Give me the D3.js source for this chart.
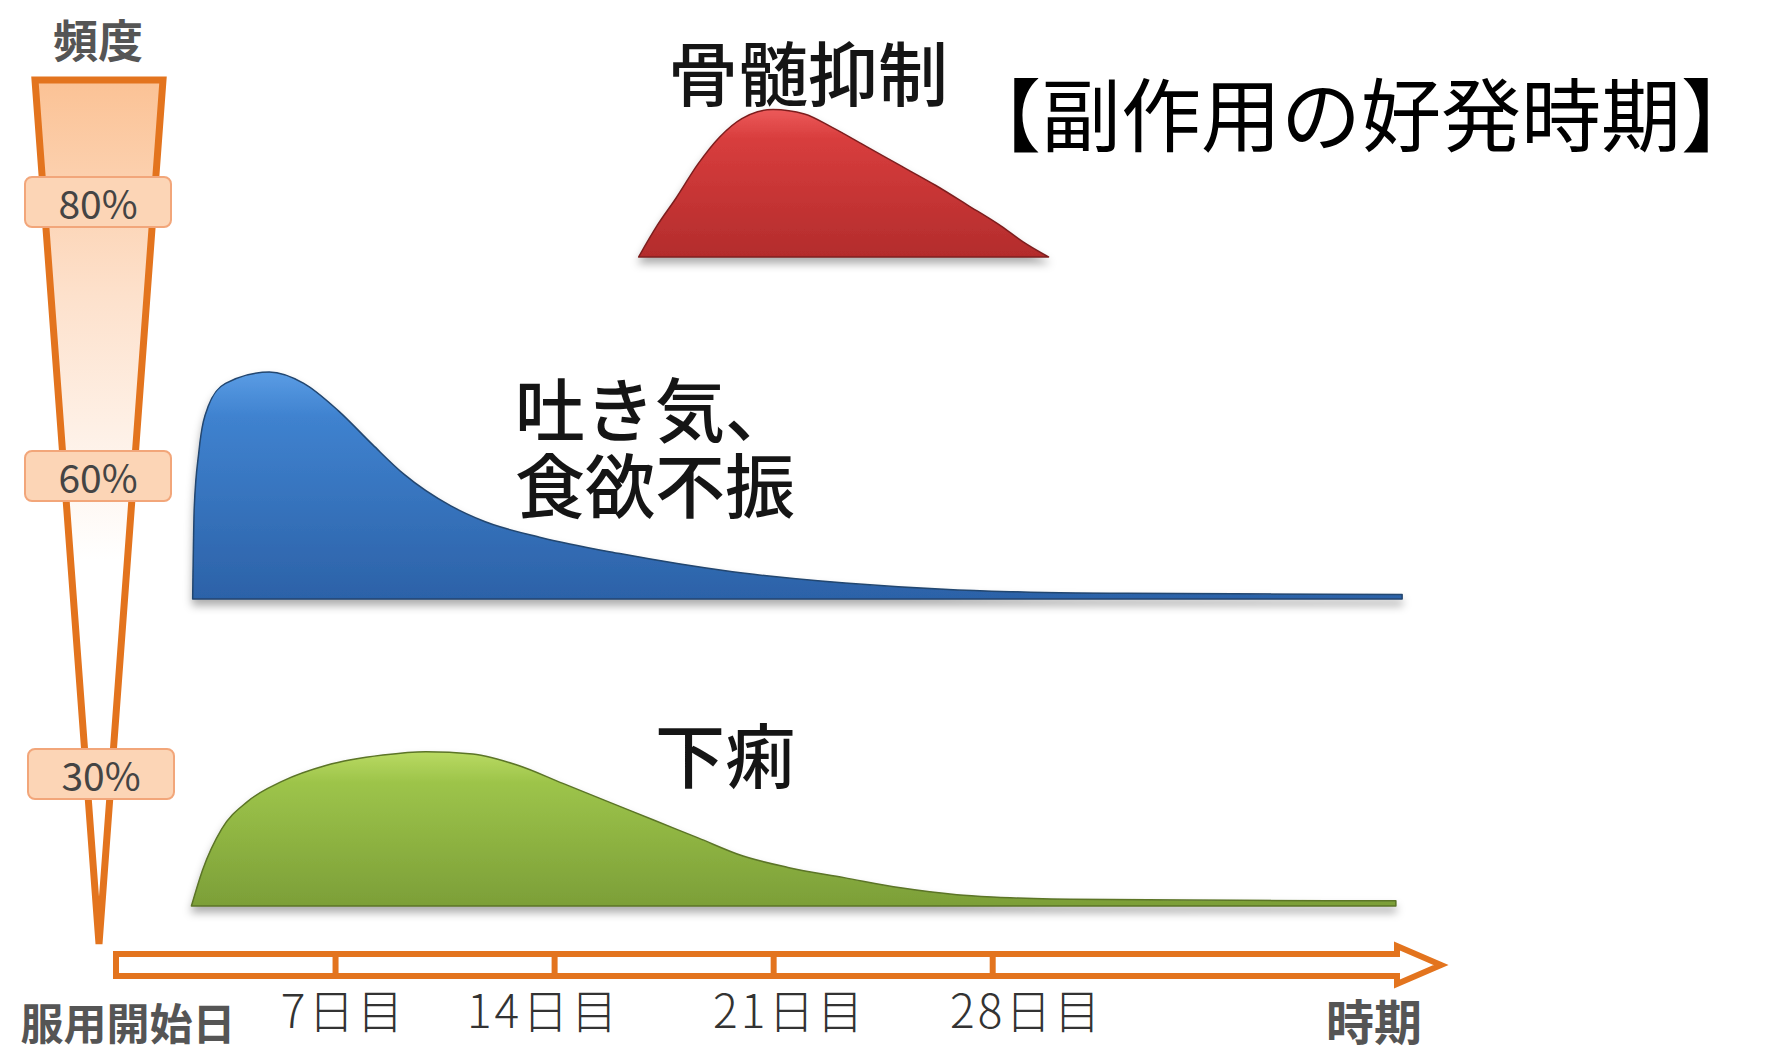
<!DOCTYPE html>
<html>
<head>
<meta charset="utf-8">
<script src="https://cdn.jsdelivr.net/npm/d3@7"></script>
<style>
  body { margin: 0; background: #fff; }
  text { font-family: "Noto Sans CJK JP", "Noto Sans", sans-serif; }
</style>
</head>
<body>
<div id="chart"></div>
<script>
// ---- data ----
const seriesNames = ['骨髄抑制', '吐き気、\n食欲不振', '下痢'];
const freqLabels = ['80%', '60%', '30%'];
const tickDays = [7, 14, 21, 28];
const tickLabels = ['7日目', '14日目', '21日目', '28日目'];

// day after start of dosing, relative intensity (0-100)
const boneDays   = [16.7, 17.3, 17.9, 18.6, 19.3, 20.0, 21.0, 22.0, 22.9, 24.0, 25.1, 26.2, 27.2, 28.3, 29.0, 29.8];
const boneValues = [0, 14, 26, 41, 53, 61, 65, 63, 57, 48.5, 40, 31.5, 23, 13.5, 6.5, 0];

const nauseaDays   = [2.45, 2.5, 2.65, 2.95, 3.5, 4.9, 6.0, 7.1, 8.2, 9.2, 10.7, 11.8, 13.6, 16.1, 19.7, 23.3, 26.9, 32.3, 41.1];
const nauseaValues = [0, 40, 65, 85, 95, 100, 95, 83, 68, 55, 41, 34, 27, 20, 12, 7, 4, 2.5, 2];

const diarrheaDays   = [2.41, 2.77, 3.38, 4.2, 5.32, 6.73, 8.53, 9.9, 11.4, 12.84, 14.28, 15.72, 17.16, 18.6, 20.04, 21.47, 23.27, 25.07, 26.87, 28.0, 30.5, 35.9, 40.9];
const diarrheaValues = [0, 16, 34, 46, 55, 62, 66.5, 68, 67, 62, 54, 46, 38, 30, 22, 17, 12.5, 8, 5, 4, 3, 2.5, 2.3];

const seriesDays = [boneDays, nauseaDays, diarrheaDays];
const seriesValues = [boneValues, nauseaValues, diarrheaValues];

// ---- layout ----
const width = 1765, height = 1053;
const rowBase = [257, 599, 906];          // baseline of each row
const boxCenter = [202, 476, 774];        // frequency label boxes
const labelPos = [{ x: 668, y: 70 }, { x: 515, y: 406 }, { x: 655, y: 752 }];
const tickLabelShift = [8, -11, 16, 34];  // labels sit a little off their ticks in the original
const colors = [
    { top: '#ec5a5a', mid: '#d83d3d', bottom: '#b32c2c', line: '#7d1f1f' },
    { top: '#5a9ce4', mid: '#3f82cf', bottom: '#2c62a8', line: '#23466f' },
    { top: '#b9da62', mid: '#9dc44a', bottom: '#7c9f38', line: '#5b7428' }
];
const orange = '#e3741e';

const svg = d3.select('#chart').append('svg')
    .attr('width', width)
    .attr('height', height);

const defs = svg.append('defs');

defs.append('filter')
    .attr('id', 'shadow')
    .attr('x', '-5%').attr('y', '-30%')
    .attr('width', '110%').attr('height', '180%')
    .append('feDropShadow')
    .attr('dx', 0).attr('dy', 6)
    .attr('stdDeviation', 4)
    .attr('flood-color', '#000')
    .attr('flood-opacity', 0.32);

colors.forEach((c, i) => {
    const g = defs.append('linearGradient')
        .attr('id', `grad${i}`)
        .attr('x1', 0).attr('y1', 0).attr('x2', 0).attr('y2', 1);
    g.append('stop').attr('offset', '0%').attr('stop-color', c.top);
    g.append('stop').attr('offset', '20%').attr('stop-color', c.mid);
    g.append('stop').attr('offset', '100%').attr('stop-color', c.bottom);
});

const funnelGrad = defs.append('linearGradient')
    .attr('id', 'funnelGrad')
    .attr('gradientUnits', 'userSpaceOnUse')
    .attr('x1', 0).attr('y1', 80).attr('x2', 0).attr('y2', 560);
funnelGrad.append('stop').attr('offset', '0%').attr('stop-color', '#fbc295');
funnelGrad.append('stop').attr('offset', '45%').attr('stop-color', '#fde1cc');
funnelGrad.append('stop').attr('offset', '100%').attr('stop-color', '#ffffff');

// ---- scales ----
const x = d3.scaleLinear().domain([0, 41]).range([116, 1399]);
const h = d3.scaleLinear().domain([0, 100]).range([0, 227]);

// ---- frequency funnel ----
svg.append('path')
    .attr('d', 'M35,80 L163,80 L99,944 Z')
    .attr('fill', 'url(#funnelGrad)')
    .attr('stroke', orange)
    .attr('stroke-width', 7);

const boxes = svg.append('g').selectAll('g')
    .data(freqLabels)
    .join('g')
    .attr('transform', (d, i) => `translate(${i === 2 ? 101 : 98}, ${boxCenter[i]})`);

boxes.append('rect')
    .attr('x', -73).attr('y', -25)
    .attr('width', 146).attr('height', 50)
    .attr('rx', 7)
    .attr('fill', '#fcd5b6')
    .attr('stroke', '#f2a67a')
    .attr('stroke-width', 2);

boxes.append('text')
    .attr('text-anchor', 'middle')
    .attr('dominant-baseline', 'central')
    .attr('font-family', '"Noto Sans", sans-serif')
    .attr('font-size', 39)
    .attr('fill', '#444')
    .text(d => d);

svg.append('text')
    .attr('x', 98).attr('y', 38)
    .attr('text-anchor', 'middle')
    .attr('dominant-baseline', 'central')
    .attr('font-size', 45)
    .attr('font-weight', 700)
    .attr('fill', '#555')
    .text('頻度');

// ---- side effect areas ----
seriesNames.forEach((name, i) => {
    const pts = seriesDays[i].map((d, j) => ({ day: d, v: seriesValues[i][j] }));
    const area = d3.area()
        .x(d => x(d.day))
        .y0(rowBase[i])
        .y1(d => rowBase[i] - h(d.v))
        .curve(d3.curveMonotoneX);

    svg.append('path')
        .datum(pts)
        .attr('d', area)
        .attr('fill', `url(#grad${i})`)
        .attr('stroke', colors[i].line)
        .attr('stroke-width', 1.5)
        .attr('stroke-linejoin', 'round')
        .attr('filter', 'url(#shadow)');

    const lbl = svg.append('text')
        .attr('x', labelPos[i].x)
        .attr('y', labelPos[i].y)
        .attr('dominant-baseline', 'central')
        .attr('font-size', 70)
        .attr('font-weight', 500)
        .attr('fill', '#151515');
    name.split('\n').forEach((line, k) => {
        lbl.append('tspan')
            .attr('x', labelPos[i].x)
            .attr('dy', k === 0 ? 0 : 76)
            .text(line);
    });
});

// ---- time arrow ----
const barLeft = x.range()[0], barRight = x.range()[1] - 2, arrowTip = barRight + 44;
const barTop = 954, barBottom = 976, barMid = (barTop + barBottom) / 2;
svg.append('path')
    .attr('d', `M${barLeft},${barTop} H${barRight} V${barTop - 8} L${arrowTip},${barMid} L${barRight},${barBottom + 8} V${barBottom} H${barLeft} Z`)
    .attr('fill', '#fff')
    .attr('stroke', orange)
    .attr('stroke-width', 6)
    .attr('stroke-linejoin', 'miter');

const xAxis = d3.axisBottom(x)
    .tickValues(tickDays)
    .tickFormat((d, i) => tickLabels[i])
    .tickSizeInner(-(barBottom - barTop))
    .tickSizeOuter(0);

const xAxisG = svg.append('g')
    .attr('transform', `translate(0, ${barBottom})`)
    .call(xAxis);

xAxisG.select('.domain').remove();
xAxisG.selectAll('.tick line')
    .attr('stroke', orange)
    .attr('stroke-width', 6);
xAxisG.selectAll('.tick text')
    .attr('y', 32)
    .attr('dy', 0)
    .attr('dx', (d, i) => tickLabelShift[i])
    .attr('dominant-baseline', 'central')
    .attr('font-family', '"Noto Sans CJK JP", sans-serif')
    .attr('font-size', 46)
    .attr('font-weight', 300)
    .attr('letter-spacing', 3)
    .attr('fill', '#333');

svg.append('text')
    .attr('x', 128).attr('y', 1021)
    .attr('text-anchor', 'middle')
    .attr('dominant-baseline', 'central')
    .attr('font-size', 43)
    .attr('font-weight', 700)
    .attr('fill', '#555')
    .text('服用開始日');

svg.append('text')
    .attr('x', 1374).attr('y', 1019)
    .attr('text-anchor', 'middle')
    .attr('dominant-baseline', 'central')
    .attr('font-size', 48)
    .attr('font-weight', 700)
    .attr('fill', '#555')
    .text('時期');

// ---- title ----
svg.append('text')
    .attr('x', 961).attr('y', 110)
    .attr('dominant-baseline', 'central')
    .attr('font-size', 80)
    .attr('font-weight', 400)
    .attr('fill', '#000')
    .text('【副作用の好発時期】');
</script>
</body>
</html>
